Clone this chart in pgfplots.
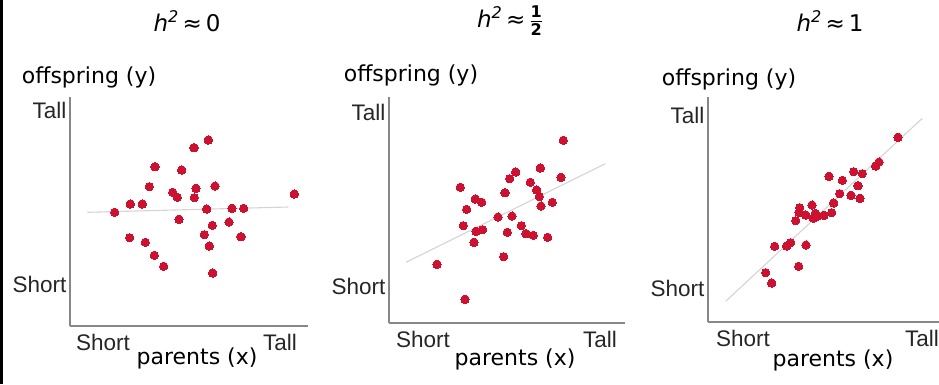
\documentclass[border=0pt]{standalone}
\usepackage{fontspec}
\usepackage{amsmath}
\usepackage{pgfplots}
\pgfplotsset{compat=1.18}
\setmainfont{DejaVu Sans}
\newfontfamily\tickfont{Liberation Sans}
\definecolor{dotred}{RGB}{204,18,48}
\definecolor{axgray}{RGB}{135,135,135}
\definecolor{fitgray}{RGB}{212,212,212}
\pgfplotsset{
  panel/.style={
    x=1pt, y=1pt, enlargelimits=false, clip=false,
    axis lines=left,
    axis line style={-, axgray, line width=1.5pt},
    major tick length=0pt,
    xticklabels={Short,Tall}, yticklabels={Short,Tall},
    ticklabel style={font=\fontsize{22.5}{22.5}\selectfont\tickfont, text=black!85},
    xticklabel style={anchor=base, yshift=-24pt},
    label style={font=\fontsize{22}{22}\selectfont},
    title style={font=\fontsize{23}{23}\selectfont, anchor=center},
    anchor=south west,
  },
  dots/.style={only marks, color=dotred, mark=*, mark size=4.2pt, mark options={fill=dotred, draw=dotred, line width=0pt}},
  fit/.style={no marks, draw=fitgray, line width=1.1pt},
}
\newcommand{\htitle}[1]{\textit{h}\textsuperscript{\textit{2}}\,≈\,#1}
\begin{document}
\begin{tikzpicture}
\useasboundingbox (0,0) rectangle (939pt,384pt);
\fill[black] (0,0) rectangle (2.6pt,384pt);
% Panel 1
\begin{axis}[panel, at={(70pt,58pt)},
  xmin=70, xmax=308, ymin=58, ymax=287,
  xtick={103,280}, ytick={99.5,273.5},
  title={\htitle{0}}, title style={at={(axis description cs:0.4916,1.306)}},
  ylabel={offspring (y)}, ylabel style={at={(axis description cs:0.08,1.087)}, anchor=center, rotate=-90},
  xlabel={parents (x)}, xlabel style={at={(axis description cs:0.5336,-0.14)}, anchor=center}]
\addplot[fit] coordinates {(87.3,171.7) (288.3,177.0)};
\addplot[dots] coordinates {
(208.3,244.0) (194.0,236.3) (155.0,217.3) (181.7,214.0) (149.3,197.3)
(215.0,198.0) (196.0,195.7) (172.7,191.7) (177.3,186.7) (194.3,186.3)
(294.3,190.0) (130.3,180.0) (142.3,180.0) (114.7,171.7) (206.7,175.0)
(232.0,175.7) (243.7,175.7) (179.0,164.7) (229.0,162.0) (212.3,158.7)
(204.3,149.3) (241.0,147.3) (129.7,146.3) (145.3,141.7) (209.3,138.0)
(154.3,128.7) (163.7,117.7) (212.7,111.0)};
\end{axis}
% Panel 2
\begin{axis}[panel, at={(389pt,61pt)},
  xmin=389, xmax=625, ymin=61, ymax=287,
  xtick={423,600}, ytick={98,272},
  title={\htitle{\ensuremath{\frac{\text{\bfseries 1}}{\text{\bfseries 2}}}}}, title style={at={(axis description cs:0.5127,1.31)}},
  ylabel={offspring (y)}, ylabel style={at={(axis description cs:0.093,1.097)}, anchor=center, rotate=-90},
  xlabel={parents (x)}, xlabel style={at={(axis description cs:0.534,-0.16)}, anchor=center}]
\addplot[fit] coordinates {(406,121.7) (605.3,220.3)};
\addplot[dots] coordinates {
(563.3,243.7) (540.3,216.0) (515.7,212.0) (509.7,205.3) (561.0,206.7)
(530.3,201.7) (460.3,196.7) (536.7,194.0) (505.0,191.3) (539.3,187.3)
(475.3,185.0) (481.7,181.7) (552.3,181.7) (466.7,174.7) (541.0,178.0)
(498.0,167.0) (512.0,168.0) (463.3,158.3) (521.3,158.3) (476.0,152.7)
(482.7,154.3) (507.3,151.7) (526.0,150.3) (533.3,148.7) (547.7,146.7)
(474.0,141.7) (503.7,127.3) (437.0,119.7) (465.0,84.7)};
\end{axis}
% Panel 3
\begin{axis}[panel, at={(708pt,62pt)},
  xmin=708, xmax=939, ymin=62, ymax=287,
  xtick={743,922}, ytick={95.3,269},
  title={\htitle{1}}, title style={at={(axis description cs:0.528,1.311)}},
  ylabel={offspring (y)}, ylabel style={at={(axis description cs:0.091,1.076)}, anchor=center, rotate=-90},
  xlabel={parents (x)}, xlabel style={at={(axis description cs:0.541,-0.172)}, anchor=center}]
\addplot[fit] coordinates {(725.7,82.7) (922.3,265.7)};
\addplot[dots] coordinates {
(898.0,246.7) (879.0,222.0) (875.7,218.0) (853.7,212.3) (862.3,210.3)
(829.0,207.7) (842.3,203.7) (858.0,198.3) (839.7,190.3) (851.0,188.7)
(860.0,185.7) (833.7,181.0) (812.0,179.0) (799.7,176.3) (799.0,171.7)
(805.7,169.0) (815.3,170.7) (817.7,168.0) (824.0,168.7) (831.7,171.3)
(813.3,165.7) (795.7,163.3) (774.7,137.7) (786.7,138.0) (790.7,141.3)
(806.0,139.0) (798.7,117.7) (765.7,111.3) (771.7,101.0)};
\end{axis}
\end{tikzpicture}
\end{document}
